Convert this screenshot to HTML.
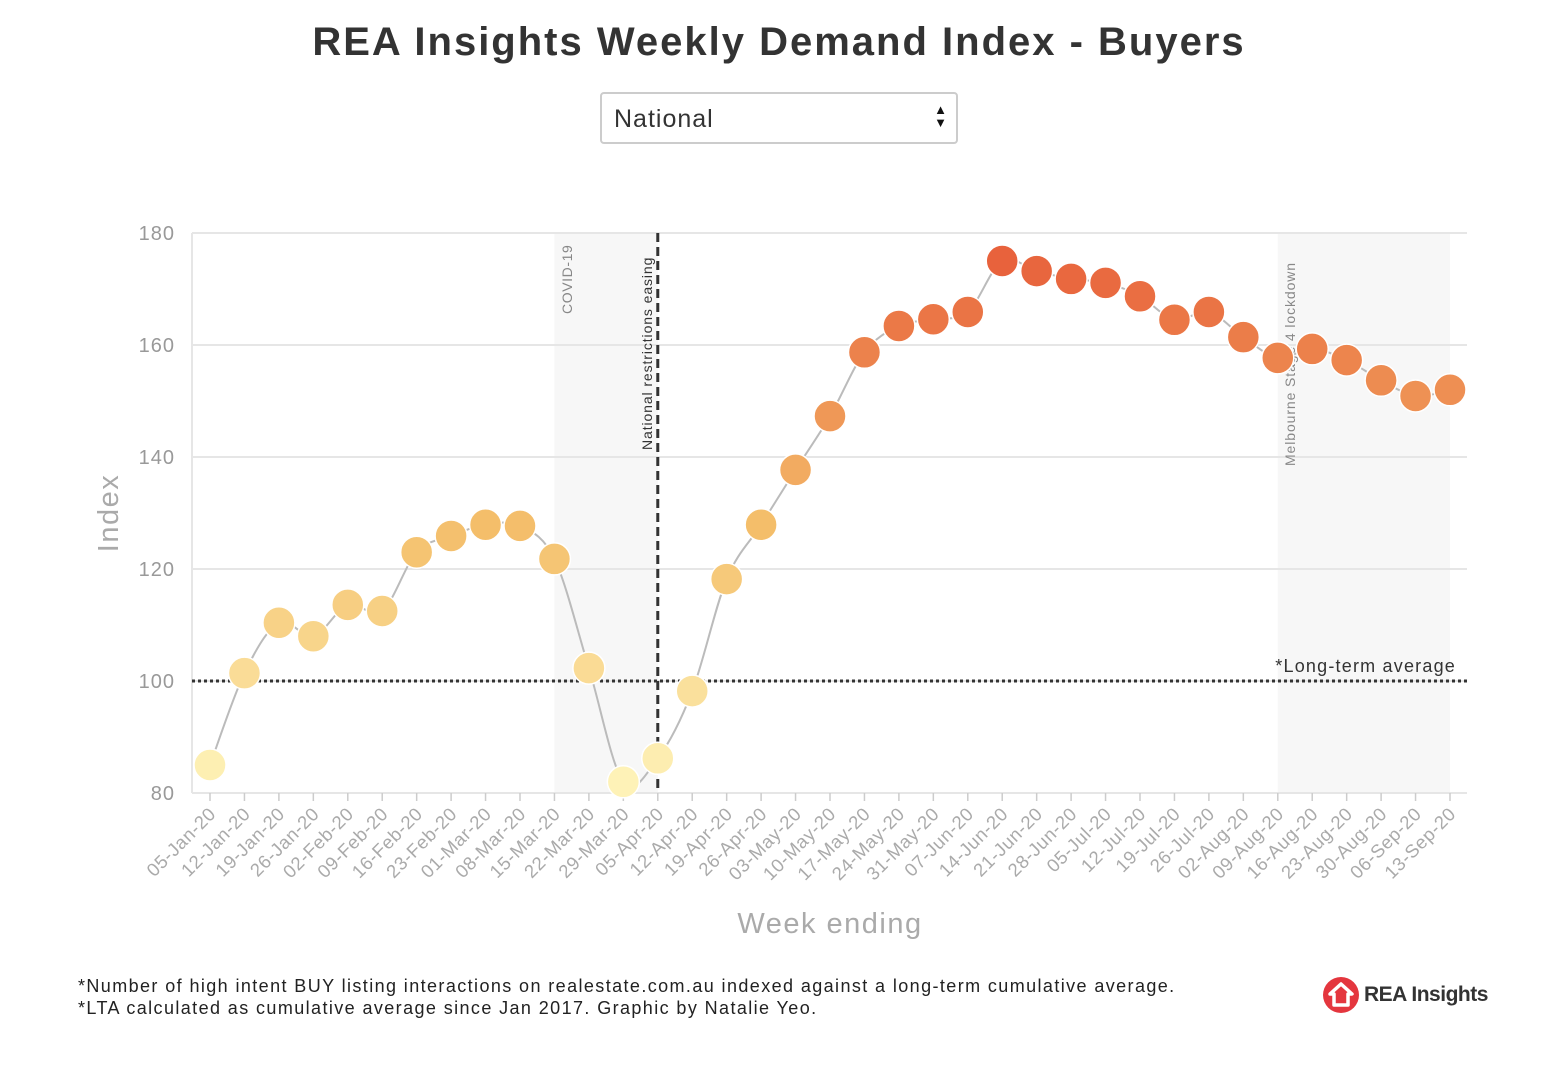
<!DOCTYPE html>
<html><head><meta charset="utf-8"><style>
body{margin:0;background:#fff;font-family:"Liberation Sans",sans-serif;}
#wrap{position:relative;width:1558px;height:1078px;}
h1{position:absolute;top:20px;left:0;width:1558px;text-align:center;margin:0;font-size:40px;letter-spacing:2px;color:#333;font-weight:bold;}
#sel{position:absolute;left:600px;top:92px;width:358px;height:52px;border:2px solid #ccc;border-radius:4px;box-sizing:border-box;font-size:25px;letter-spacing:1px;color:#333;padding:11px 12px;}
#sel span.ar{position:absolute;right:8px;top:9px;font-size:13px;line-height:13px;color:#111;}
.foot{position:absolute;left:78px;top:975px;font-size:18px;letter-spacing:1.4px;color:#222;line-height:22px;}
</style></head><body><div id="wrap">
<h1>REA Insights Weekly Demand Index - Buyers</h1>
<div id="sel">National<span class="ar">▲<br>▼</span></div>
<svg id="ch" width="1558" height="1078" style="position:absolute;left:0;top:0"></svg>
<div class="foot">*Number of high intent BUY listing interactions on realestate.com.au indexed against a long-term cumulative average.<br>*LTA calculated as cumulative average since Jan 2017. Graphic by Natalie Yeo.</div>
<div style="position:absolute;left:1322px;top:976px;width:170px;height:40px;">
<svg width="40" height="40" style="position:absolute;left:0;top:0"><circle cx="19" cy="19" r="18" fill="#e4363e"/><path d="M19 8 L30 18 L26 18 L26 29 L12 29 L12 18 L8 18 Z" fill="none" stroke="#fff" stroke-width="3.5" stroke-linejoin="round"/></svg>
<span style="position:absolute;left:42px;top:7px;font-size:21px;font-weight:bold;color:#333;letter-spacing:-0.5px">REA Insights</span></div>
</div>
<script>
const weeks=["05-Jan-20","12-Jan-20","19-Jan-20","26-Jan-20","02-Feb-20","09-Feb-20","16-Feb-20","23-Feb-20","01-Mar-20","08-Mar-20","15-Mar-20","22-Mar-20","29-Mar-20","05-Apr-20","12-Apr-20","19-Apr-20","26-Apr-20","03-May-20","10-May-20","17-May-20","24-May-20","31-May-20","07-Jun-20","14-Jun-20","21-Jun-20","28-Jun-20","05-Jul-20","12-Jul-20","19-Jul-20","26-Jul-20","02-Aug-20","09-Aug-20","16-Aug-20","23-Aug-20","30-Aug-20","06-Sep-20","13-Sep-20"];
const values=[85,101.4,110.4,108,113.6,112.5,123,125.9,127.9,127.7,121.8,102.3,82,86.2,98.2,118.2,127.9,137.7,147.3,158.7,163.4,164.6,165.9,175,173.2,171.8,171.1,168.7,164.5,165.9,161.4,157.7,159.3,157.3,153.7,150.9,152];
const yTicks=[80,100,120,140,160,180];
const svg=document.getElementById('ch');const NS='http://www.w3.org/2000/svg';
function x(i){return 210+i*(1450-210)/(weeks.length-1);}
function y(v){return 793-(v-80)*(793-233)/100;}
function mk(t,a,p){const e=document.createElementNS(NS,t);for(const k in a)e.setAttribute(k,a[k]);(p||svg).appendChild(e);return e;}
let r=mk('rect',{x:x(10),y:233,width:x(13)-x(10),height:560,fill:'#f7f7f7'});


r=mk('rect',{x:x(31),y:233,width:x(36)-x(31),height:560,fill:'#f7f7f7'});


yTicks.forEach(v=>{const l=mk('line',{x1:192,x2:1467,y1:y(v),y2:y(v),stroke:'#e6e6e6','stroke-width':2});


const t=mk('text',{x:175,y:y(v)+7,'text-anchor':'end','font-size':20,'letter-spacing':1,fill:'#999'});t.textContent=v;

});
mk('line',{x1:192,x2:192,y1:233,y2:793,stroke:'#e6e6e6','stroke-width':2});
weeks.forEach((w,i)=>{mk('line',{x1:x(i),x2:x(i),y1:793,y2:801,stroke:'#ccc','stroke-width':1.5});
const t=mk('text',{x:x(i)+7,y:815,'text-anchor':'end','font-size':18.5,'letter-spacing':0.6,fill:'#aaa',transform:`rotate(-45 ${x(i)+7} 815)`});t.textContent=w;

});
let t=mk('text',{x:830,y:933,'text-anchor':'middle','font-size':29,'letter-spacing':1.5,fill:'#aaa'});t.textContent='Week ending';


t=mk('text',{x:118,y:513,'text-anchor':'middle','font-size':29,'letter-spacing':1.5,fill:'#aaa',transform:'rotate(-90 118 513)'});t.textContent='Index';


t=mk('text',{x:572,y:314,'font-size':14,'letter-spacing':0.6,fill:'#888',transform:'rotate(-90 572 314)'});t.textContent='COVID-19';


t=mk('text',{x:652,y:450,'font-size':14,'letter-spacing':0.9,fill:'#333',transform:'rotate(-90 652 450)'});t.textContent='National restrictions easing';


t=mk('text',{x:1295,y:466,'font-size':14,'letter-spacing':0.9,fill:'#888',transform:'rotate(-90 1295 466)'});t.textContent='Melbourne Stage 4 lockdown';


let l=mk('line',{x1:x(13),x2:x(13),y1:233,y2:793,stroke:'#333','stroke-width':3,'stroke-dasharray':'9,5'});


l=mk('line',{x1:192,x2:1467,y1:y(100),y2:y(100),stroke:'#333','stroke-width':3,'stroke-dasharray':'3,3'});


t=mk('text',{x:1456,y:y(100)-9,'text-anchor':'end','font-size':18,'letter-spacing':1.2,fill:'#333'});t.textContent='*Long-term average';


const P=values.map((v,i)=>[x(i),y(v)]);
let d=`M${P[0][0]},${P[0][1]}`;
for(let i=0;i<P.length-1;i++){const p0=P[Math.max(0,i-1)],p1=P[i],p2=P[i+1],p3=P[Math.min(P.length-1,i+2)];
d+=` C${p1[0]+(p2[0]-p0[0])/6},${p1[1]+(p2[1]-p0[1])/6} ${p2[0]-(p3[0]-p1[0])/6},${p2[1]-(p3[1]-p1[1])/6} ${p2[0]},${p2[1]}`;}
const pa=mk('path',{d:d,fill:'none',stroke:'#bbb','stroke-width':2});


function col(v){const stops=[[82,[254,242,183]],[128,[244,190,106]],[175,[232,98,60]]];
let a=stops[0],b=stops[1];if(v>128){a=stops[1];b=stops[2];}
let f=Math.max(0,Math.min(1,(v-a[0])/(b[0]-a[0])));
return `rgb(${a[1].map((c,k)=>Math.round(c+(b[1][k]-c)*f)).join(',')})`;}
values.forEach((v,i)=>{const c=mk('circle',{cx:x(i),cy:y(v),r:16,fill:col(v),stroke:'#fff','stroke-width':1.5});

});
</script></body></html>
